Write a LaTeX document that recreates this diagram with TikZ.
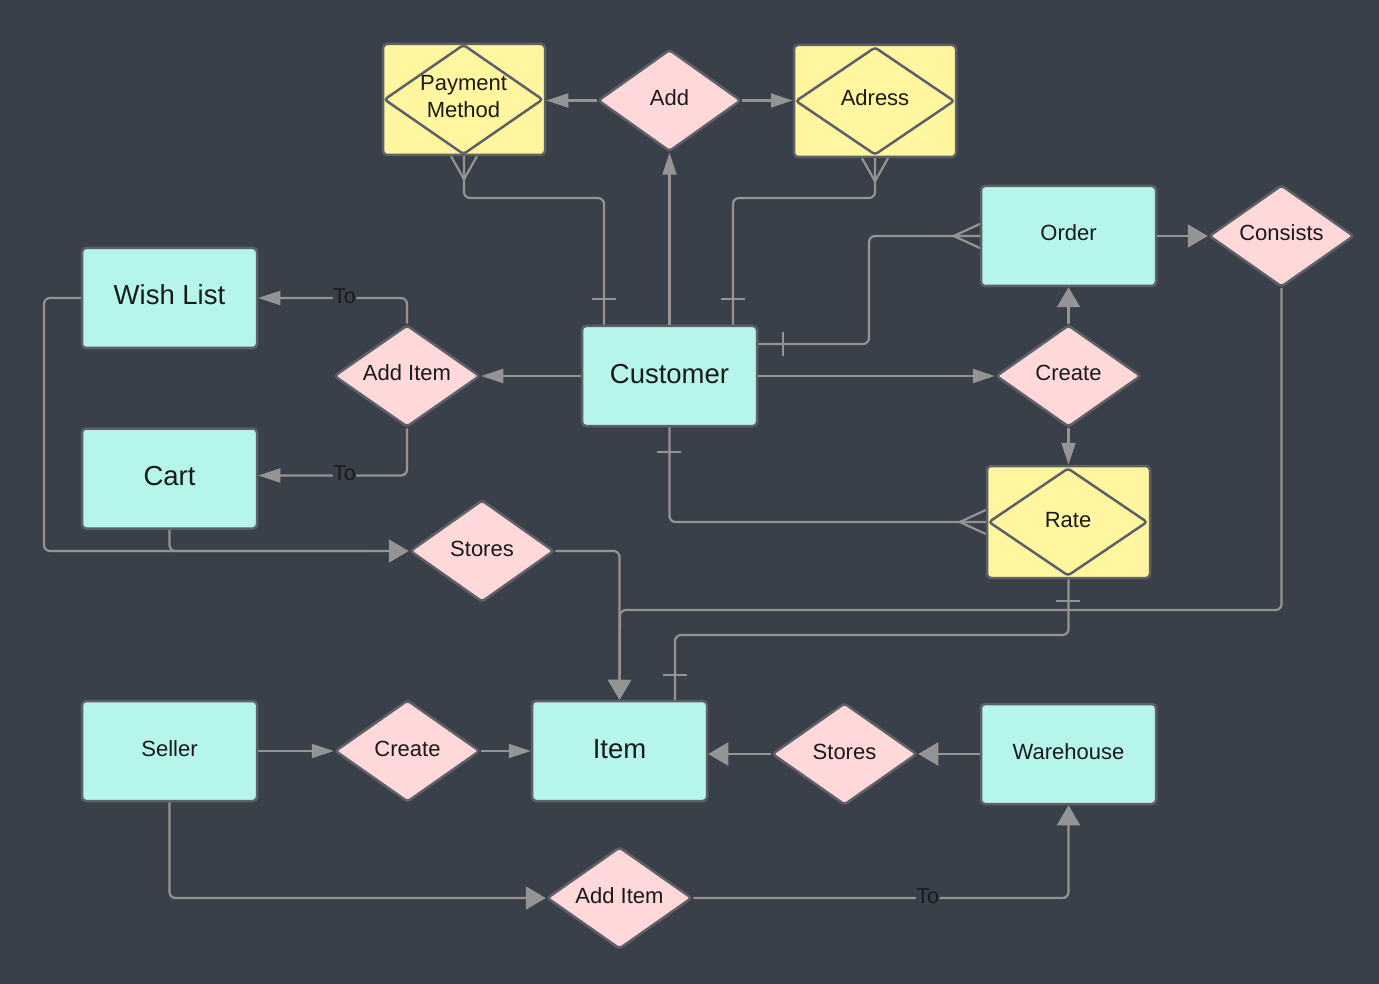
\documentclass[tikz,border=0pt]{standalone}
\usepackage{fontspec}
\setmainfont{Liberation Sans}
\usetikzlibrary{arrows.meta,shapes.geometric}
\definecolor{bgc}{HTML}{3A404A}
\definecolor{ent}{HTML}{B5F5EC}
\definecolor{wk}{HTML}{FFF69F}
\definecolor{rel}{HTML}{FFD8D9}
\definecolor{bord}{HTML}{5D6066}
\definecolor{lnc}{HTML}{949494}
\definecolor{txt}{HTML}{1A1A1A}
\begin{document}
\begin{tikzpicture}[x=1pt,y=-1pt,
  entity/.style={draw=bord, line width=2.5pt, fill=ent, rounded corners=4pt, minimum width=175pt, minimum height=100pt, inner sep=0pt, font=\fontsize{22}{27}\selectfont, text=txt, text height=16pt, text depth=6pt},
  bigent/.style={entity, font=\fontsize{27.5}{32}\selectfont, text height=20pt, text depth=6pt},
  weak/.style={draw=bord, line width=2.5pt, fill=wk, rounded corners=4pt, minimum width=162pt, minimum height=111pt, inner sep=0pt},
  relship/.style={diamond, draw=bord, line width=2.5pt, fill=rel, rounded corners=3pt, minimum width=145pt, minimum height=102pt, inner sep=0pt, shape aspect=1.42, font=\fontsize{22}{27}\selectfont, text=txt, align=center, text height=16pt, text depth=6pt},
  innerd/.style={relship, fill=none, minimum width=159pt, minimum height=107pt},
  conn/.style={draw=lnc, line width=2.2pt, rounded corners=6pt},
  small/.style={-{Triangle[length=22pt,width=14pt]}},
  big/.style={-{Triangle[length=20pt,width=23pt]}},
  cardm/.style={draw=lnc, line width=2.2pt},
  tolbl/.style={fill=bgc, inner sep=0.5pt, yshift=2pt, font=\fontsize{21.5}{24}\selectfont, text=txt}
]
\fill[bgc] (0,0) rectangle (1379,984);
% nodes
\node[weak] (pm) at (464,99.5) {};
\node[innerd, text height=43pt, text depth=6pt] (pmd) at (463.5,99.5) {Payment\\Method};
\node[relship, minimum width=143pt] (add) at (669.5,100.5) {Add};
\node[weak, minimum height=112pt] (adr) at (875,101) {};
\node[innerd, minimum height=108pt] (adrd) at (875,101) {Adress};
\node[entity] (order) at (1068.5,236) {Order};
\node[relship] (cons) at (1281.5,236) {Consists};
\node[bigent] (wish) at (169.5,298) {Wish List};
\node[relship, minimum width=146pt] (ai1) at (407,376) {Add Item};
\node[bigent] (cust) at (669.5,376) {Customer};
\node[relship] (cr1) at (1068.5,376) {Create};
\node[bigent] (cart) at (169.5,478.5) {Cart};
\node[weak, minimum width=163pt, minimum height=112pt] (rate) at (1068.5,522) {};
\node[innerd, minimum height=108pt] (rated) at (1068,522) {Rate};
\node[relship, minimum width=144pt] (st1) at (482,551) {Stores};
\node[entity] (seller) at (169.5,751) {Seller};
\node[relship] (cr2) at (407.5,751) {Create};
\node[bigent] (item) at (619.5,751) {Item};
\node[relship] (st2) at (844.5,754) {Stores};
\node[entity] (wh) at (1068.5,754) {Warehouse};
\node[relship] (ai2) at (619.5,898) {Add Item};
% connectors
\draw[conn,small] (add.west) -- (pm.east |- add.west);
\draw[conn,small] (add.east) -- (adr.west |- add.east);
\draw[conn,small] (cust.north) -- (add.south);
\draw[conn] ([xshift=-65.5pt]cust.north) -- (604,198) -| (pm.south);
\draw[conn] ([xshift=63.5pt]cust.north) -- (733,198) -| (adr.south);
\draw[conn] ([yshift=32pt]cust.east) -- (869,344) |- (order.west);
\draw[conn,small] (cust.east) -- (cr1.west);
\draw[conn,big] (cr1.north) -- (order.south);
\draw[conn,small] (cr1.south) -- (rate.north);
\draw[conn] (cust.south) |- (rate.west);
\draw[conn,big] (order.east) -- (cons.west);
\draw[conn,big] (cons.south) |- (620,610) -- (item.north);
\draw[conn,big] (st1.east) -| (item.north);
\draw[conn] (rate.south) |- (675,635) -- ([xshift=55.5pt]item.north);
\draw[conn,small] (cust.west) -- (ai1.east);
\draw[conn,small] (ai1.north) |- node[tolbl,pos=0.71]{To} (wish.east);
\draw[conn,small] (ai1.south) |- node[tolbl,pos=0.71]{To} ([yshift=3pt]cart.east);
\draw[conn,big] (wish.west) -- (44,298) |- (st1.west);
\draw[conn] (cart.south) |- ([xshift=-40pt]st1.west);
\draw[conn,small] (seller.east) -- (cr2.west);
\draw[conn,small] (cr2.east) -- (item.west);
\draw[conn,big] (wh.west) -- (st2.east);
\draw[conn,big] (st2.west) -- (item.east |- st2.west);
\draw[conn,big] (seller.south) |- (ai2.west);
\draw[conn,big] (ai2.east) -| node[tolbl,pos=0.3125]{To} (wh.south);
% cardinality marks
\draw[cardm] ([xshift=-13pt]pm.south) -- ([yshift=-23pt]pm.south) -- ([xshift=13pt]pm.south);
\draw[cardm] (592,299) -- (616,299);
\draw[cardm] ([xshift=-13pt]adr.south) -- ([yshift=-23pt]adr.south) -- ([xshift=13pt]adr.south);
\draw[cardm] (721,299) -- (745,299);
\draw[cardm] ([yshift=12pt]order.west) -- ([xshift=-26pt]order.west) -- ([yshift=-12pt]order.west);
\draw[cardm] (783,332) -- (783,356);
\draw[cardm] ([yshift=12pt]rate.west) -- ([xshift=-26pt]rate.west) -- ([yshift=-12pt]rate.west);
\draw[cardm] (657,452) -- (681,452);
\draw[cardm] (1056,601) -- (1080,601);
\draw[cardm] (663,675) -- (687,675);
\end{tikzpicture}
\end{document}
